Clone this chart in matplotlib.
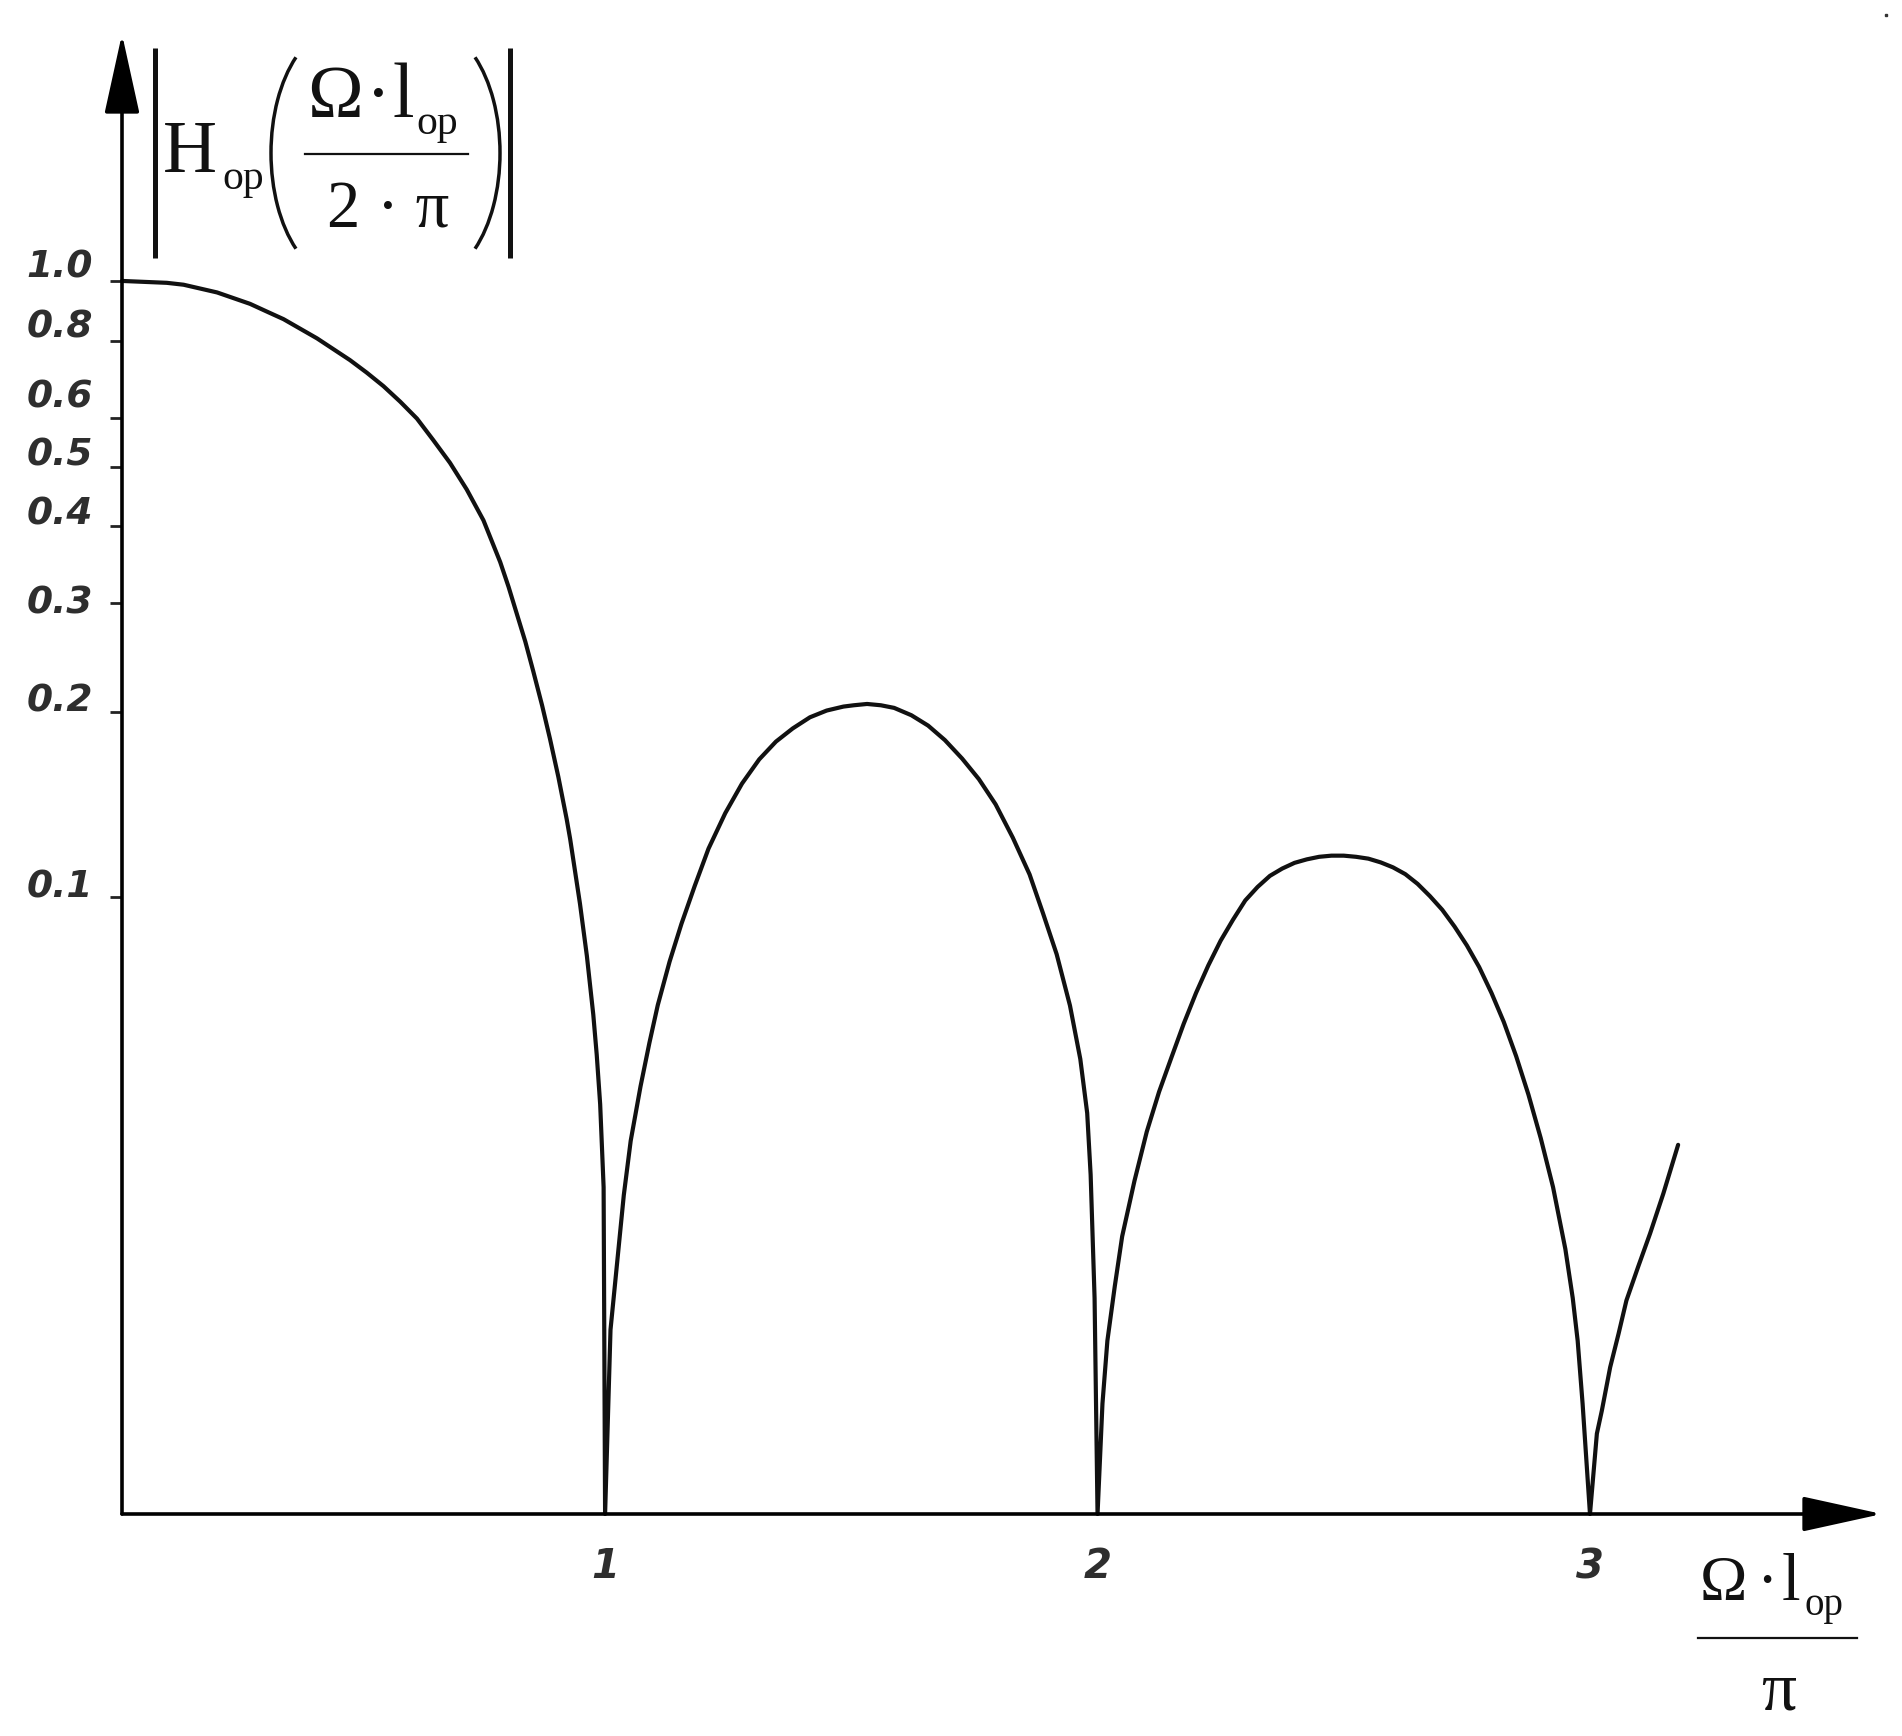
import numpy as np
import matplotlib
matplotlib.use("Agg")
import matplotlib.pyplot as plt
import matplotlib.transforms as mtransforms
from matplotlib.ticker import NullLocator, FixedLocator
from matplotlib.patches import Arc

# ---- data ----
x_vals = [0.019, 0.110, 0.144, 0.212, 0.279, 0.313, 0.347, 0.415, 0.482, 0.516,
          0.550, 0.584, 0.618, 0.651, 0.685, 0.719, 0.753, 0.787, 0.804, 0.821,
          0.838, 0.854, 0.872, 0.888, 0.905, 0.922, 0.929, 0.949, 0.963, 0.976,
          0.983, 0.990, 0.997, 1.000,
          1.011, 1.038, 1.052, 1.072, 1.090, 1.107, 1.131, 1.155, 1.182, 1.210,
          1.244, 1.278, 1.313, 1.347, 1.381, 1.416, 1.450, 1.484, 1.505, 1.532,
          1.560, 1.587, 1.622, 1.656, 1.690, 1.725, 1.759, 1.793, 1.828, 1.862,
          1.889, 1.917, 1.944, 1.965, 1.979, 1.986, 1.994, 2.000,
          2.010, 2.020, 2.035, 2.050, 2.075, 2.100, 2.125, 2.150, 2.175, 2.200,
          2.225, 2.250, 2.275, 2.300, 2.325, 2.350, 2.375, 2.400, 2.425, 2.450,
          2.475, 2.500, 2.525, 2.550, 2.575, 2.600, 2.625, 2.650, 2.675, 2.700,
          2.725, 2.750, 2.775, 2.800, 2.825, 2.850, 2.875, 2.900, 2.925, 2.950,
          2.965, 2.975, 2.985, 3.000,
          3.014, 3.024, 3.041, 3.058, 3.074, 3.098, 3.122, 3.149, 3.179]
h_vals = [1.000, 0.993, 0.986, 0.958, 0.918, 0.892, 0.867, 0.807, 0.744, 0.710,
          0.675, 0.637, 0.598, 0.552, 0.507, 0.459, 0.409, 0.350, 0.319, 0.288,
          0.260, 0.233, 0.205, 0.181, 0.157, 0.134, 0.1245, 0.0977, 0.0804, 0.0646,
          0.0556, 0.0462, 0.0339, 0.0,
          0.0199, 0.0329, 0.0403, 0.0494, 0.0581, 0.0669, 0.0787, 0.0906, 0.1044, 0.120,
          0.137, 0.153, 0.1675, 0.179, 0.188, 0.196, 0.201, 0.204, 0.205, 0.206,
          0.205, 0.203, 0.1975, 0.190, 0.180, 0.168, 0.1556, 0.1416, 0.125, 0.109,
          0.0944, 0.0809, 0.0668, 0.0547, 0.0447, 0.0355, 0.0224, 0.0,
          0.0151, 0.0191, 0.0234, 0.0282, 0.0347, 0.0417, 0.0484, 0.0550, 0.0624, 0.0700,
          0.0776, 0.0851, 0.0920, 0.0989, 0.1040, 0.1084, 0.1114, 0.1138, 0.1153, 0.1164,
          0.1169, 0.1169, 0.1164, 0.1156, 0.1140, 0.1119, 0.1091, 0.1052, 0.1005, 0.0955,
          0.0897, 0.0836, 0.0771, 0.0700, 0.0628, 0.0553, 0.0479, 0.0407, 0.0339, 0.0269,
          0.0224, 0.0191, 0.0151, 0.0,
          0.0135, 0.0147, 0.0173, 0.0196, 0.0222, 0.0252, 0.0285, 0.0331, 0.0397]

y_ticks = [1.0, 0.8, 0.6, 0.5, 0.4, 0.3, 0.2, 0.1]
y_tick_labels = ['1.0', '0.8', '0.6', '0.5', '0.4', '0.3', '0.2', '0.1']
x_ticks = [1, 2, 3]
x_tick_labels = ['1', '2', '3']

y_floor = 0.01
y_top = 2.515
x_left = 0.019
x_right = 3.593

INK = '#111111'

# ---- figure ----
W, H = 1902, 1736
fig = plt.figure(figsize=(W / 100, H / 100), dpi=100)
fig.patch.set_facecolor('white')
ax = fig.add_axes([122 / W, (H - 1514) / H, (1882 - 122) / W, (1514 - 34) / H])
ax.set_yscale('log')
ax.set_xlim(x_left, x_right)
ax.set_ylim(y_floor, y_top)

xs = np.array(x_vals)
ys = np.clip(np.array(h_vals), y_floor, None)
ax.plot(xs, ys, color=INK, lw=3.0, solid_capstyle='round', solid_joinstyle='round',
        clip_on=False, zorder=3)

for s in ax.spines.values():
    s.set_visible(False)

# axes arrows
arrow_kw = dict(arrowstyle='-|>,head_length=2.5,head_width=0.55', lw=2.6, color='black',
                mutation_scale=20, shrinkA=0, shrinkB=0)
ax.annotate('', xy=(0, 1), xytext=(0, 0), xycoords='axes fraction', arrowprops=arrow_kw,
            annotation_clip=False)
ax.annotate('', xy=(1, 0), xytext=(0, 0), xycoords='axes fraction', arrowprops=arrow_kw,
            annotation_clip=False)

# y ticks
ax.yaxis.set_minor_locator(NullLocator())
ax.yaxis.set_major_locator(FixedLocator(y_ticks))
ax.set_yticklabels([''] * len(y_ticks))
ax.tick_params(axis='y', direction='out', length=9, width=2, color='#222222')

tick_font = dict(family='DejaVu Sans', style='oblique', weight='bold', color='#2e2e2e')
label_dy = [13, 13, 20, 11, 12, 0, 10, 10]  # px upward shift of each label
trans_y = mtransforms.blended_transform_factory(ax.transAxes, ax.transData)
for val, lab, dy in zip(y_ticks, y_tick_labels, label_dy):
    t = trans_y + mtransforms.ScaledTranslation(-29 / 100, dy / 100, fig.dpi_scale_trans)
    ax.text(0, val, lab, transform=t, ha='right', va='center', fontsize=27, **tick_font)

# x ticks
ax.xaxis.set_minor_locator(NullLocator())
ax.set_xticks(x_ticks)
ax.set_xticklabels(x_tick_labels, fontsize=29, **tick_font)
ax.tick_params(axis='x', length=0, pad=24)

# ---- axis titles, composed in a pixel-coordinate overlay ----
ov = fig.add_axes([0, 0, 1, 1])
ov.set_xlim(0, W)
ov.set_ylim(H, 0)
ov.axis('off')
ov.patch.set_visible(False)
serif = dict(family='Liberation Serif', color=INK, va='baseline')

# |H_op( Ω·l_op / 2·π )|
ov.plot([155, 155], [48, 258], color=INK, lw=3.6, solid_capstyle='butt')
ov.plot([510, 510], [48, 258], color=INK, lw=3.6, solid_capstyle='butt')
ov.text(163, 172, 'H', fontsize=54, ha='left', **serif)
ov.text(222, 189, 'op', fontsize=30, ha='left', **serif)
ov.add_patch(Arc((341, 153), 140, 250, theta1=115.2, theta2=244.8, color=INK, lw=2.5))
ov.add_patch(Arc((430, 153), 140, 250, theta1=-64.8, theta2=64.8, color=INK, lw=2.5))
ov.text(307, 117, 'Ω', fontsize=54, ha='left', **serif)
ov.text(378, 117, '·', fontsize=54, ha='center', **serif)
ov.text(392, 117, 'l', fontsize=56, ha='left', **serif)
ov.text(416, 134, 'op', fontsize=30, ha='left', **serif)
ov.plot([305, 468], [154, 154], color=INK, lw=1.6)
ov.text(388, 228, '2 · π', fontsize=48, ha='center', **serif)

# Ω·l_op / π
ov.text(1700, 1600, 'Ω', fontsize=46, ha='left', **serif)
ov.text(1767, 1600, '·', fontsize=46, ha='center', **serif)
ov.text(1782, 1600, 'l', fontsize=48, ha='left', **serif)
ov.text(1805, 1615, 'op', fontsize=28, ha='left', **serif)
ov.plot([1698, 1857], [1638, 1638], color=INK, lw=1.6)
ov.text(1779, 1710, 'π', fontsize=50, ha='center', **serif)

# small speck in the top-right corner
ov.plot([1886], [15], marker='s', ms=1.5, color='#333333', ls='none')

fig.savefig('out.png', dpi=100, facecolor='white')
